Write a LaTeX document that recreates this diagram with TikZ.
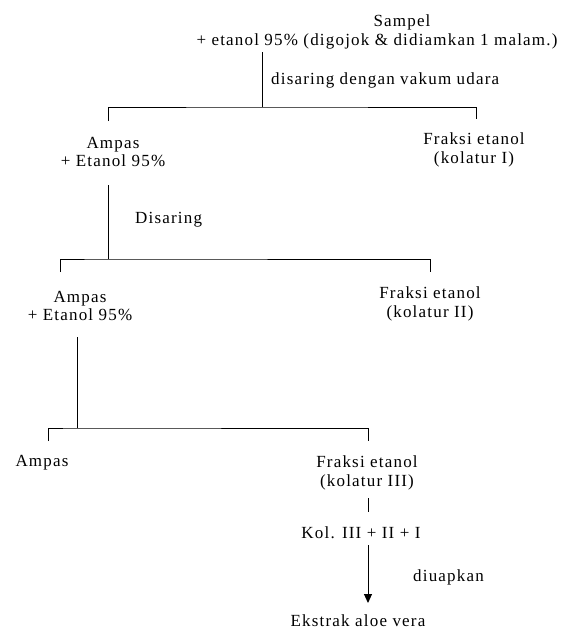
\documentclass[tikz,border=0pt]{standalone}
\usepackage{fontspec}
\setmainfont{Liberation Serif}[LetterSpace=7]
\usetikzlibrary{arrows.meta}
\begin{document}
\begin{tikzpicture}[x=1pt,y=-1pt,
  txt/.style={inner sep=0pt,font=\fontsize{17}{18.5}\selectfont,align=center},
  lbl/.style={inner sep=0pt,font=\fontsize{17}{18.5}\selectfont,anchor=west},
  ln/.style={line width=1pt}]
\useasboundingbox (0,0) rectangle (573,630);
% samples and fractions
\node[txt] (s1) at (402,22) {Sampel};
\node[txt] (s2) at (377,41) {+ etanol 95\% (digojok \& didiamkan 1 malam.)};
\node[txt] (a1) at (113,152) {Ampas\\+ Etanol 95\%};
\node[txt] (f1) at (474,150) {Fraksi etanol\\(kolatur I)};
\node[txt] (a2) at (80,306) {Ampas\\+ Etanol 95\%};
\node[txt] (f2) at (430,304) {Fraksi etanol\\(kolatur II)};
\node[txt] (a3) at (42,463) {Ampas};
\node[txt] (f3) at (367,473) {Fraksi etanol\\(kolatur III)};
\node[txt] (k) at (361,533) {Kol. III + II + I};
\node[txt] (e) at (358,621) {Ekstrak aloe vera};
% step labels
\node[lbl] (l1) at (271,80) {disaring dengan vakum udara};
\node[lbl] (l2) at (135,220) {Disaring};
\node[lbl] (l3) at (413,577) {diuapkan};
% junction points
\coordinate (t1) at (262,52);
\coordinate (j1) at (262,107);
\coordinate (t2) at (108,185);
\coordinate (j2) at (108,259);
\coordinate (t3) at (77,337);
\coordinate (j3) at (77,428);
% first filtration
\draw[ln] (t1) -- (j1);
\draw[ln] (108,121) |- (j1) -| (476,119);
% second filtration
\draw[ln] (t2) -- (j2);
\draw[ln] (60,272) |- (j2) -| (430,272);
% third filtration
\draw[ln] (t3) -- (j3);
\draw[ln] (48,441) |- (j3) -| (368,441);
% combining the filtrates
\draw[ln] (368,498) -- (368,512);
\draw[ln,-{Triangle[length=9pt,width=8pt]}] (368,545) -- (368,603);
\end{tikzpicture}
\end{document}
